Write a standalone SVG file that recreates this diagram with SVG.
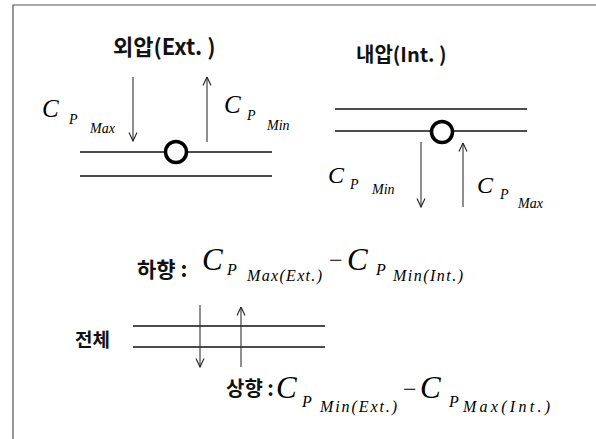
<svg xmlns="http://www.w3.org/2000/svg" width="596" height="439" viewBox="0 0 596 439">
<style>
.frame{stroke:#555;stroke-width:1.2;fill:none}
.pipe{stroke:#111;stroke-width:1.3;fill:none}
.arr{stroke:#333;stroke-width:1.1;fill:none}
.ring{stroke:#000;stroke-width:3.5;fill:#fff}
.ko{font-family:"Noto Sans CJK KR","Noto Sans",sans-serif;font-weight:bold;fill:#111}
.c{font-family:"Liberation Serif",serif;font-style:italic;fill:#000}
.m{font-family:"Liberation Serif",serif;fill:#000}
</style>
<defs>
<marker id="ah" viewBox="0 0 10 10" refX="9.5" refY="5" markerWidth="10" markerHeight="10" markerUnits="userSpaceOnUse" orient="auto">
<path d="M1,1 L9.5,5 L1,9" fill="none" stroke="#222" stroke-width="1.1"/>
</marker>
</defs>
<rect width="596" height="439" fill="#fff"/>
<g id="frame">
<path class="frame" d="M13,439 L13,5 L596,5"/>
</g>
<g id="external">
<text class="ko" x="113" y="55" font-size="22">외압(Ext. )</text>
<line class="pipe" x1="80" y1="152" x2="272" y2="152"/>
<line class="pipe" x1="80" y1="176" x2="272" y2="176"/>
<circle class="ring" cx="176" cy="152" r="10.5"/>
<text class="c" x="42" y="117" font-size="25">C</text>
<text class="c" x="69" y="124" font-size="14">P</text>
<text class="c" x="90" y="133" font-size="14">Max</text>
<text class="c" x="224" y="113" font-size="25">C</text>
<text class="c" x="247" y="120" font-size="14">P</text>
<text class="c" x="267" y="130" font-size="14">Min</text>
</g>
<g id="internal">
<text class="ko" x="356" y="62" font-size="20">내압(Int. )</text>
<line class="pipe" x1="335" y1="109" x2="527" y2="109"/>
<line class="pipe" x1="335" y1="131" x2="527" y2="131"/>
<circle class="ring" cx="442" cy="132" r="10.5"/>
<text class="c" x="328" y="183" font-size="24">C</text>
<text class="c" x="350" y="189" font-size="14">P</text>
<text class="c" x="372" y="194" font-size="14">Min</text>
<text class="c" x="477" y="193" font-size="24">C</text>
<text class="c" x="500" y="199" font-size="14">P</text>
<text class="c" x="518" y="208" font-size="14">Max</text>
</g>
<g id="total">
<text class="ko" x="75" y="347" font-size="19">전체</text>
<line class="pipe" x1="133" y1="326" x2="325" y2="326"/>
<line class="pipe" x1="133" y1="347" x2="325" y2="347"/>
</g>
<g id="downward">
<text class="ko" x="137" y="277" font-size="21">하향 :</text>
<text class="c" x="202" y="270" font-size="31">C</text>
<text class="c" x="227" y="275" font-size="16">P</text>
<text class="c" x="247" y="281" font-size="16" textLength="75" lengthAdjust="spacing">Max(Ext.)</text>
<text class="m" x="329" y="268" font-size="24">−</text>
<text class="c" x="347" y="270" font-size="31">C</text>
<text class="c" x="376" y="275" font-size="16">P</text>
<text class="c" x="393" y="281" font-size="16" textLength="70" lengthAdjust="spacing">Min(Int.)</text>
</g>
<g id="upward">
<text class="ko" x="226" y="396" font-size="20">상향 :</text>
<text class="c" x="276" y="398" font-size="31">C</text>
<text class="c" x="302" y="407" font-size="16">P</text>
<text class="c" x="320" y="412" font-size="16" textLength="77" lengthAdjust="spacing">Min(Ext.)</text>
<text class="m" x="403" y="397" font-size="24">−</text>
<text class="c" x="420" y="398" font-size="31">C</text>
<text class="c" x="449" y="407" font-size="16">P</text>
<text class="c" x="463" y="412" font-size="16" textLength="87" lengthAdjust="spacing">Max(Int.)</text>
</g>
<g id="connectors">
<line class="arr" x1="133" y1="77" x2="133" y2="141" marker-end="url(#ah)"/>
<line class="arr" x1="207" y1="142" x2="207" y2="77" marker-end="url(#ah)"/>
<line class="arr" x1="421" y1="142" x2="421" y2="207" marker-end="url(#ah)"/>
<line class="arr" x1="463" y1="207" x2="463" y2="143" marker-end="url(#ah)"/>
<line class="arr" x1="200" y1="305" x2="200" y2="367" marker-end="url(#ah)"/>
<line class="arr" x1="241" y1="367" x2="241" y2="307" marker-end="url(#ah)"/>
</g>
</svg>
